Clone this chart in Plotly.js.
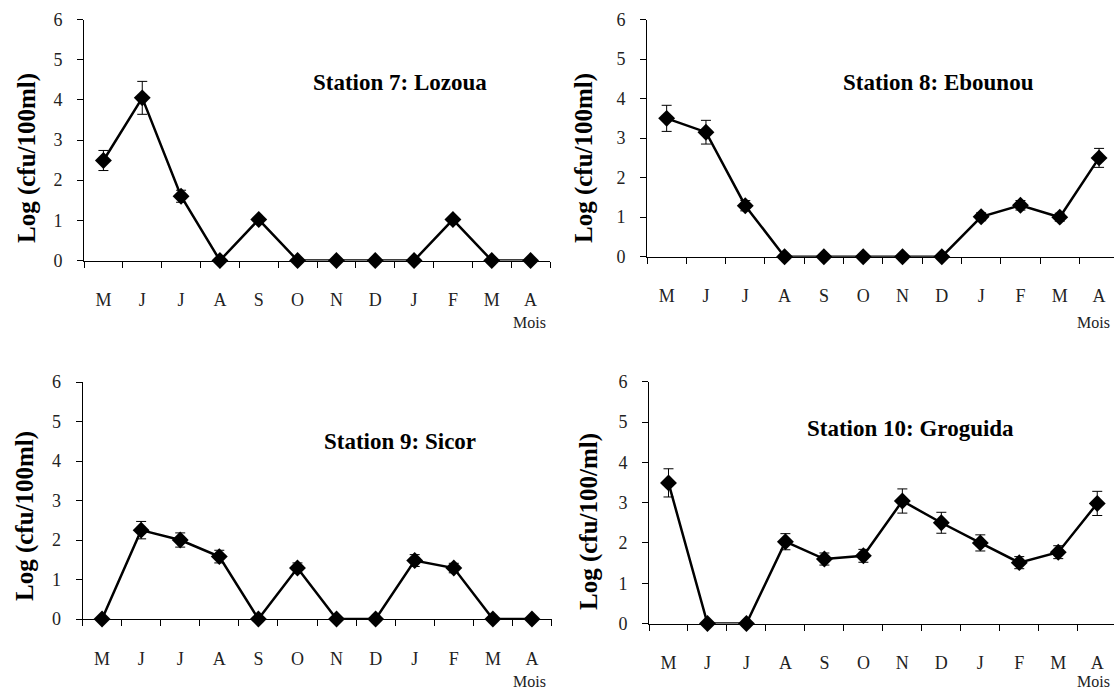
<!DOCTYPE html>
<html>
<head>
<meta charset="utf-8">
<script src="https://cdn.plot.ly/plotly-3.0.1.min.js"></script>
<style>html,body{margin:0;padding:0;background:#fff;}#chart{width:1114px;height:690px;}</style>
</head>
<body>
<div id="chart"></div>
<script>
// ---- Data ----
const months = ['M','J','J','A','S','O','N','D','J','F','M','A'];
const monthIndex = [0,1,2,3,4,5,6,7,8,9,10,11];

const station7 = [2.49, 4.05, 1.6, 0, 1.02, 0, 0, 0, 0, 1.02, 0, 0];
const station7Err = [0.25, 0.41, 0.15, 0, 0.05, 0, 0, 0, 0, 0.05, 0, 0];

const station8 = [3.5, 3.15, 1.29, 0, 0, 0, 0, 0, 1.01, 1.3, 1.0, 2.5];
const station8Err = [0.33, 0.3, 0.13, 0, 0, 0, 0, 0, 0.1, 0.12, 0.1, 0.24];

const station9 = [0, 2.25, 2.0, 1.58, 0, 1.29, 0, 0, 1.48, 1.29, 0, 0];
const station9Err = [0, 0.22, 0.18, 0.16, 0, 0.13, 0, 0, 0.15, 0.12, 0, 0];

const station10 = [3.49, 0, 0, 2.03, 1.6, 1.68, 3.04, 2.5, 2.0, 1.51, 1.77, 2.98];
const station10Err = [0.35, 0, 0, 0.2, 0.15, 0.16, 0.3, 0.26, 0.2, 0.15, 0.16, 0.3];

const stationTitles = ['Station 7: Lozoua', 'Station 8: Ebounou', 'Station 9: Sicor', 'Station 10: Groguida'];
const yTitles = ['Log (cfu/100ml)', 'Log (cfu/100ml)', 'Log (cfu/100ml)', 'Log (cfu/100/ml)'];
const xTitle = 'Mois';

// ---- Layout (pixel geometry) ----
const W = 1114, H = 690;
const panels = [
  {vals: station7,  err: station7Err,  x0: 84,  x1: 550,  yTop: 19.5, yBot: 260.5, xEnd: 11.5,
   titleX: 400, titleY: 82, yTitleX: 27, yTitleY: 158, moisX: 548, moisY: 322},
  {vals: station8,  err: station8Err,  x0: 647, x1: 1114, yTop: 19.5, yBot: 256.7, xEnd: 11.38,
   titleX: 938, titleY: 82, yTitleX: 584, yTitleY: 158, moisX: 1112, moisY: 322},
  {vals: station9,  err: station9Err,  x0: 82.5, x1: 551.5, yTop: 382, yBot: 619, xEnd: 11.5,
   titleX: 400, titleY: 441, yTitleX: 25, yTitleY: 516, moisX: 548, moisY: 681},
  {vals: station10, err: station10Err, x0: 649, x1: 1114, yTop: 381.7, yBot: 623.5, xEnd: 11.43,
   titleX: 910, titleY: 428, yTitleX: 589, yTitleY: 522, moisX: 1112, moisY: 681}
];

const serif = 'Liberation Serif';
const traces = [];
const layout = {
  width: W, height: H,
  margin: {l: 0, r: 0, t: 0, b: 0},
  paper_bgcolor: '#fff', plot_bgcolor: '#fff',
  showlegend: false,
  font: {family: serif},
  annotations: []
};

panels.forEach((p, i) => {
  const n = i + 1;
  const sfx = n === 1 ? '' : String(n);
  traces.push({
    type: 'scatter', mode: 'lines+markers',
    x: monthIndex, y: p.vals,
    xaxis: 'x' + sfx, yaxis: 'y' + sfx,
    line: {color: '#000', width: 2.5},
    marker: {symbol: 'diamond', size: 13, color: '#000'},
    error_y: {type: 'data', array: p.err, visible: true, color: '#000', thickness: 1, width: 5},
    cliponaxis: false,
    hoverinfo: 'skip'
  });
  layout['xaxis' + sfx] = {
    domain: [p.x0 / W, p.x1 / W],
    range: [-0.5, p.xEnd],
    anchor: 'y' + sfx,
    tickmode: 'array', tickvals: monthIndex, ticktext: months,
    ticks: '',
    ticklabelstandoff: 23,
    minor: {tickmode: 'linear', tick0: -0.5, dtick: 1, ticks: 'outside', ticklen: 6, tickcolor: '#000', tickwidth: 1},
    showline: true, linecolor: '#000', linewidth: 1,
    showgrid: false, zeroline: false,
    tickfont: {family: serif, size: 18, color: '#222'},
    fixedrange: true
  };
  // major ticks invisible but long (sets the label gap); visible short ticks drawn as minor ticks
  layout['yaxis' + sfx] = {
    domain: [1 - p.yBot / H, 1 - p.yTop / H],
    range: [0, 6.001],
    anchor: 'x' + sfx,
    tickmode: 'linear', tick0: 0, dtick: 1,
    ticks: 'outside', ticklen: 17, tickcolor: 'rgba(0,0,0,0)', tickwidth: 1,
    minor: {tickmode: 'linear', tick0: 0.0001, dtick: 1, ticks: 'outside', ticklen: 6, tickcolor: '#000', tickwidth: 1},
    showline: true, linecolor: '#000', linewidth: 1,
    showgrid: false, zeroline: false,
    tickfont: {family: serif, size: 18, color: '#222'},
    fixedrange: true
  };
  layout.annotations.push({
    xref: 'paper', yref: 'paper', x: p.titleX / W, y: 1 - p.titleY / H,
    xanchor: 'center', yanchor: 'middle', showarrow: false,
    text: '<b>' + stationTitles[i] + '</b>',
    font: {family: serif, size: 23, color: '#000'}
  });
  layout.annotations.push({
    xref: 'paper', yref: 'paper', x: p.yTitleX / W, y: 1 - p.yTitleY / H,
    xanchor: 'center', yanchor: 'middle', showarrow: false, textangle: -90,
    text: '<b>' + yTitles[i] + '</b>',
    font: {family: serif, size: 25, color: '#000'}
  });
  layout.annotations.push({
    xref: 'paper', yref: 'paper', x: p.moisX / W, y: 1 - p.moisY / H,
    xanchor: 'right', yanchor: 'middle', showarrow: false,
    text: xTitle,
    font: {family: serif, size: 16, color: '#222'}
  });
});

Plotly.newPlot('chart', traces, layout, {staticPlot: true, displayModeBar: false});
</script>
</body>
</html>
